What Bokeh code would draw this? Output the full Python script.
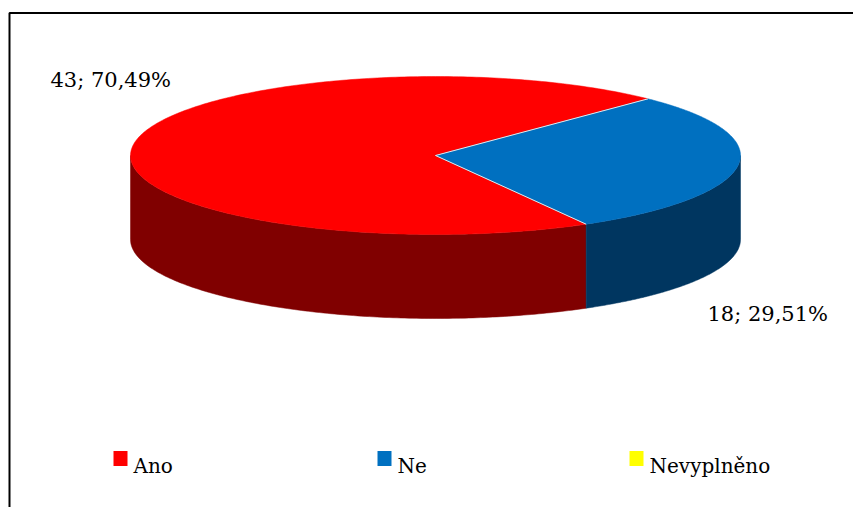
import numpy as np
from bokeh.plotting import figure
from bokeh.models import Range1d
from bokeh.core.properties import value
from bokeh.embed import file_html
from bokeh.resources import INLINE

# ---- data ----
categories = ["Ano", "Ne", "Nevyplněno"]
counts = [43, 18, 0]
top_colors = ["#FF0000", "#0070C0", "#FFFF00"]
side_colors = ["#800000", "#003660", "#808000"]

# ---- layout / style constants ----
W, H = 853, 507
CX, CY, RX, RY, DEPTH = 435, 155, 305, 79, 84
START_DEG = 299.6          # math angle where the first slice begins (slices run clockwise)
FONT = value("DejaVu Serif")
label_xy = [(50, 79), (707, 313), None]
legend_x = [113, 377, 629]
legend_y = 458

p = figure(width=W, height=H, x_range=Range1d(0, W), y_range=Range1d(H, 0),
           output_backend="svg", toolbar_location=None, min_border=0,
           x_axis_location=None, y_axis_location=None)
p.grid.visible = False
p.outline_line_color = None
p.background_fill_color = "white"
p.border_fill_color = "white"

# chart border (extends beyond the window on the right and bottom)
p.line(x=[9, 9, 1000], y=[700, 12.5, 12.5], line_color="#000000", line_width=2)


def ell(t_deg, dy=0.0):
    t = np.radians(t_deg)
    return CX + RX * np.cos(t), CY - RY * np.sin(t) + dy


total = float(sum(counts))
slices = []
cur = START_DEG
for c in counts:
    span = c / total * 360.0
    hi, lo = cur, cur - span
    cur = lo
    slices.append((lo, hi))

# side walls (front half only)
for (lo, hi), c, col in zip(slices, counts, side_colors):
    if c == 0:
        continue
    for k in (-360, 0, 360):
        a, b = max(lo, 180 + k), min(hi, 360 + k)
        if b <= a:
            continue
        t = np.linspace(a, b, 160)
        xt, yt = ell(t)
        xb, yb = ell(t[::-1], DEPTH)
        p.patch(x=np.concatenate([xt, xb]), y=np.concatenate([yt, yb]),
                fill_color=col, line_color=col, line_width=0.5)

# top faces
for (lo, hi), c, col in zip(slices, counts, top_colors):
    if c == 0:
        continue
    t = np.linspace(lo, hi, 300)
    xa, ya = ell(t)
    p.patch(x=np.concatenate([[CX], xa]), y=np.concatenate([[CY], ya]),
            fill_color=col, line_color=col, line_width=0.5)

# thin light separators between slices on the top face
nonzero = [s for s, c in zip(slices, counts) if c > 0]
for lo, hi in nonzero:
    ex, ey = ell(lo)
    p.line(x=[CX, ex], y=[CY, ey], line_color="#E8E8E8", line_width=1)

# data labels
for c, xy in zip(counts, label_xy):
    if c == 0 or xy is None:
        continue
    txt = f"{c}; {c / total * 100:.2f}%".replace(".", ",")
    p.text(x=[xy[0]], y=[xy[1]], text=[txt], text_font=FONT, text_font_size="21px",
           text_color="#000000", text_align="left", text_baseline="alphabetic")

# legend
for name, col, lx in zip(categories, top_colors, legend_x):
    p.rect(x=[lx + 7], y=[legend_y], width=14, height=15, fill_color=col, line_color=None)
    p.text(x=[lx + 20], y=[legend_y + 7], text=[name], text_font=FONT, text_font_size="20px",
           text_color="#000000", text_align="left", text_baseline="alphabetic")

open("out.html", "w").write(file_html(p, INLINE))
